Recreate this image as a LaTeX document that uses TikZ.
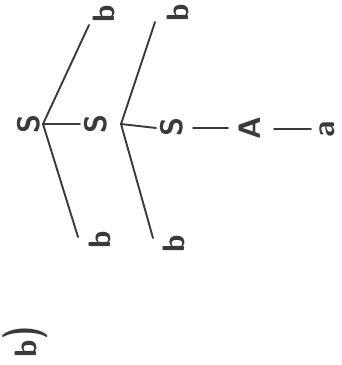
\documentclass[tikz,border=0pt]{standalone}
\usetikzlibrary{calc}
\definecolor{ink}{HTML}{3A3A3A}
\begin{document}
\begin{tikzpicture}[x=1pt,y=-1pt,
  lbl/.style={rotate=90, font=\sffamily\bfseries\fontsize{31}{31}\selectfont, text=ink, inner sep=0pt},
  edge/.style={draw=ink, line width=1.9pt, line cap=round}]
\fill[white] (0,0) rectangle (341,365);
\useasboundingbox (0,0) rectangle (341,365);
\node[lbl] (S1) at (29,124) {S};
\node[lbl] (S2) at (96,124) {S};
\node[lbl] (S3) at (172,127) {S};
\node[lbl] (A) at (250,128) {A};
\node[lbl] (a) at (327,129) {a};
\node[lbl] (bt1) at (104,14) {b};
\node[lbl] (bt2) at (178,13) {b};
\node[lbl] (bb1) at (100,240) {b};
\node[lbl] (bb2) at (174,244) {b};
\node[lbl] (lab) at (25,342) {b\scalebox{1}[1.45]{)}};
\coordinate (j1) at (43,124);
\coordinate (j2) at (121,124);
\draw[edge] (j1) -- ($(S2)+(-16,0)$);
\draw[edge] (j1) -- ($(bt1)+(-15,11)$);
\draw[edge] (j1) -- ($(bb1)+(-22,-3)$);
\draw[edge] (j2) -- ($(S3)+(-16,1)$);
\draw[edge] (j2) -- ($(bt2)+(-23,9)$);
\draw[edge] (j2) -- ($(bb2)+(-21,-6)$);
\draw[edge] ($(S3)+(21,1)$) -- ($(A)+(-22,0)$);
\draw[edge] ($(A)+(24,1)$) -- ($(a)+(-16,0)$);
\end{tikzpicture}
\end{document}
